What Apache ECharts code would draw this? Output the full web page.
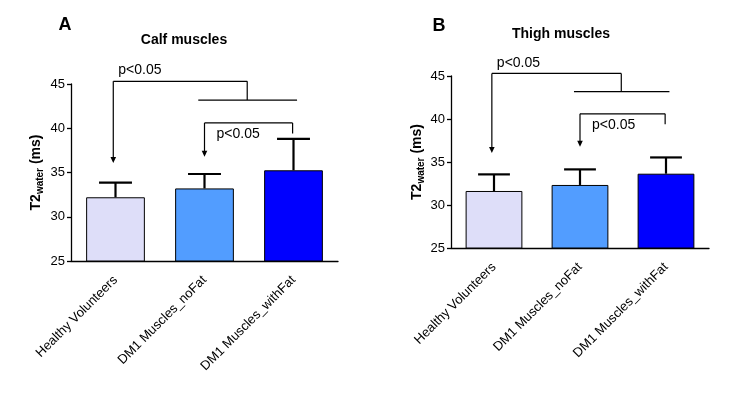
<!DOCTYPE html>
<html>
<head>
<meta charset="utf-8">
<script src="https://cdn.jsdelivr.net/npm/echarts@6/dist/echarts.min.js"></script>
<style>
html,body{margin:0;padding:0;background:#fff;}
#main{width:732px;height:397px;}
</style>
</head>
<body>
<div id="main"></div>
<script>
// ---- data ----
const categories = ['Healthy Volunteers', 'DM1 Muscles_noFat', 'DM1 Muscles_withFat'];
const calfMean = [32.2, 33.2, 35.25];
const calfSD = [1.65, 1.63, 3.55];
const thighMean = [31.63, 32.33, 33.64];
const thighSD = [1.93, 1.81, 1.89];
const yTicks = [25, 30, 35, 40, 45];
const panelLetters = ['A', 'B'];
const panelTitles = ['Calf muscles', 'Thigh muscles'];
const pLabel = 'p<0.05';

const FONT = '"Liberation Sans", Arial, sans-serif';
const barColors = ['#dedef9', '#529dff', '#0000ff'];

const chart = echarts.init(document.getElementById('main'));

function errSeries(idx, means, sds) {
  return {
    type: 'custom', xAxisIndex: idx, yAxisIndex: idx, z: 5, clip: false,
    data: means.map((m, i) => [i, m, m + sds[i]]),
    renderItem: function (params, api) {
      const x = api.value(0);
      const p0 = api.coord([x, api.value(1)]);
      const p1 = api.coord([x, api.value(2)]);
      const half = api.size([1, 0])[0] * 0.185;
      const st = { stroke: '#000', lineWidth: 2.2 };
      return { type: 'group', children: [
        { type: 'line', shape: { x1: p0[0], y1: p0[1], x2: p1[0], y2: p1[1] }, style: st },
        { type: 'line', shape: { x1: p1[0] - half, y1: p1[1], x2: p1[0] + half, y2: p1[1] }, style: st }
      ]};
    }
  };
}

function annoSeries(idx) {
  return {
    type: 'custom', xAxisIndex: idx, yAxisIndex: idx, z: 6, clip: false,
    data: [[0, 25]],
    renderItem: function (params, api) {
      const c0 = api.coord([0, 25]);
      const c1 = api.coord([1, 25]);
      const X = f => c0[0] + f * (c1[0] - c0[0]);
      const Y = v => api.coord([0, v])[1];
      const st = { stroke: '#000', lineWidth: 1.2, fill: null };
      const ln = (x1, y1, x2, y2) => ({ type: 'line', shape: { x1, y1, x2, y2 }, style: st });
      const arrow = (x, ytop, ytip) => [
        ln(x, ytop, x, ytip - 5),
        { type: 'polygon', shape: { points: [[x - 2.8, ytip - 6], [x + 2.8, ytip - 6], [x, ytip]] }, style: { fill: '#000' } }
      ];
      const ch = [];
      // upper bracket
      const yu = Y(45.3), yh = Y(43.18);
      ch.push(ln(X(-0.025), yu, X(1.48), yu));
      ch.push(ln(X(1.48), yu, X(1.48), yh));
      ch.push(ln(X(0.93), yh, X(2.04), yh));
      ch.push(...arrow(X(-0.025), yu, Y(36.06)));
      ch.push({ type: 'text', x: X(-0.025) + 5, y: Y(46.55),
        style: { text: pLabel, font: '14px ' + FONT, fill: '#000', textAlign: 'left', textVerticalAlign: 'middle' } });
      // lower bracket
      const yl = Y(40.6);
      ch.push(ln(X(1.0), yl, X(1.99), yl));
      ch.push(ln(X(1.99), yl, X(1.99), Y(39.4)));
      ch.push(...arrow(X(1.0), yl, Y(36.78)));
      ch.push({ type: 'text', x: X(1.0) + 12, y: Y(39.3),
        style: { text: pLabel, font: '14px ' + FONT, fill: '#000', textAlign: 'left', textVerticalAlign: 'middle' } });
      return { type: 'group', children: ch };
    }
  };
}

const grids = [
  { left: 71, top: 84, width: 267, height: 177 },
  { left: 451, top: 76, width: 258, height: 172 }
];

const xAxes = grids.map((g, i) => ({
  type: 'category', gridIndex: i, data: categories,
  axisLine: { lineStyle: { color: '#000', width: 1.3 } },
  axisTick: { alignWithLabel: true, length: 5, lineStyle: { color: '#000', width: 1.3 } },
  axisLabel: { rotate: 45, interval: 0, margin: 17, color: '#000', fontSize: 13, fontFamily: FONT }
}));

const yAxes = grids.map((g, i) => ({
  type: 'value', gridIndex: i, min: yTicks[0], max: yTicks[yTicks.length - 1], interval: 5,
  splitLine: { show: false },
  axisLine: { show: true, lineStyle: { color: '#000', width: 1.3 } },
  axisTick: { show: true, length: 4, lineStyle: { color: '#000', width: 1.3 } },
  axisLabel: { color: '#000', fontSize: 13, fontFamily: FONT, margin: 6 },
  name: '{a|T2}{b|water}{a| (ms)}',
  nameLocation: 'middle', nameRotate: 90, nameGap: i === 0 ? 26 : 25,
  nameTextStyle: {
    rich: {
      a: { fontSize: 14, fontWeight: 'bold', fontFamily: FONT, color: '#000', lineHeight: 18 },
      b: { fontSize: 10, fontWeight: 'bold', fontFamily: FONT, color: '#000', verticalAlign: 'bottom', lineHeight: 18 }
    }
  }
}));

function barSeries(idx, means) {
  return {
    type: 'bar', xAxisIndex: idx, yAxisIndex: idx, barWidth: '66%', z: 2,
    data: means.map((m, i) => ({ value: m, itemStyle: { color: barColors[i] } })),
    itemStyle: { borderColor: '#000', borderWidth: 1 }
  };
}

const titlePos = [[65, 25, 184, 40], [439, 26, 561, 34]];
const graphic = [];
titlePos.forEach((p, i) => {
  graphic.push({ type: 'text', x: p[0], y: p[1], style: { text: panelLetters[i], font: 'bold 18px ' + FONT, fill: '#000', textAlign: 'center', textVerticalAlign: 'middle' } });
  graphic.push({ type: 'text', x: p[2], y: p[3], style: { text: panelTitles[i], font: 'bold 14px ' + FONT, fill: '#000', textAlign: 'center', textVerticalAlign: 'middle' } });
});

chart.setOption({
  animation: false,
  backgroundColor: '#fff',
  grid: grids,
  xAxis: xAxes,
  yAxis: yAxes,
  graphic: graphic,
  series: [
    barSeries(0, calfMean), errSeries(0, calfMean, calfSD), annoSeries(0),
    barSeries(1, thighMean), errSeries(1, thighMean, thighSD), annoSeries(1)
  ]
});
</script>
</body>
</html>
